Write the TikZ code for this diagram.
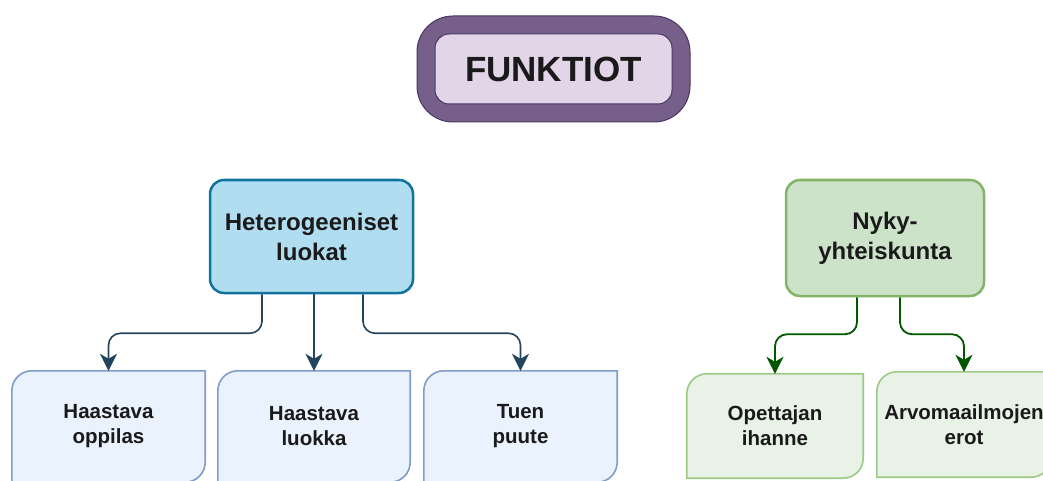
\documentclass[tikz,border=0pt]{standalone}
\usepackage{fontspec}
\setmainfont{Liberation Sans}
\usepackage{tikz}
\usetikzlibrary{arrows.meta,backgrounds}

\definecolor{funkfill}{HTML}{E1D5E7}
\definecolor{funkdark}{HTML}{76608A}
\definecolor{funkline}{HTML}{4B3663}
\definecolor{hetfill}{HTML}{B1DDF0}
\definecolor{hetline}{HTML}{10739E}
\definecolor{bluefill}{HTML}{EAF2FD}
\definecolor{blueline}{HTML}{7F9CCD}
\definecolor{bluearrow}{HTML}{23445D}
\definecolor{nykfill}{HTML}{CCE3CA}
\definecolor{nykline}{HTML}{82B366}
\definecolor{greenfill}{HTML}{E8F2E6}
\definecolor{greenline}{HTML}{9BCB85}
\definecolor{greenarrow}{HTML}{005700}
\definecolor{txt}{HTML}{1A1A1A}

\begin{document}
\begin{tikzpicture}[x=1pt, y=1pt,
  parent/.style={rectangle, rounded corners=14pt, line width=2.5pt, align=center,
    text=txt, font=\bfseries\fontsize{24}{30}\selectfont},
  child/.style={align=center, text=txt, font=\bfseries\fontsize{20.5}{25}\selectfont},
  barrow/.style={draw=bluearrow, line width=1.6pt, rounded corners=12pt,
    -{Stealth[length=17pt,width=17pt,inset=5pt]}},
  garrow/.style={draw=greenarrow, line width=1.8pt, rounded corners=12pt,
    -{Stealth[length=17pt,width=17pt,inset=5pt]}}]
  \useasboundingbox (0,0) rectangle (1043,480);

  \node[draw=funkline, fill=funkdark, rounded corners=36pt, line width=1pt,
    minimum width=273pt, minimum height=106pt] (funk) at (553.5,411) {};
  \node[draw=funkline, fill=funkfill, rounded corners=14pt, line width=1pt,
    minimum width=237pt, minimum height=70pt, text=txt,
    font=\bfseries\fontsize{35}{42}\selectfont] (funkin) at (funk) {FUNKTIOT};

  \node[parent, draw=hetline, fill=hetfill, minimum width=203pt, minimum height=113pt]
    (het) at (311.5,243.5) {Heterogeeniset\\luokat};
  \node[parent, draw=nykline, fill=nykfill, minimum width=198pt, minimum height=116pt]
    (nyk) at (885,242) {Nyky-\\yhteiskunta};

  \node[child, minimum width=193pt, minimum height=111pt] (hop) at (108.5,53.5) {Haastava\\oppilas};
  \node[child, minimum width=192pt, minimum height=111pt] (hlu) at (314,53.5) {Haastava\\luokka};
  \node[child, minimum width=193pt, minimum height=111pt] (tpu) at (520.5,53.5) {Tuen\\puute};
  \node[child, minimum width=176pt, minimum height=104pt] (ope) at (775,54) {Opettajan\\ihanne};
  \node[child, minimum width=174pt, minimum height=105pt] (arv) at (964,55.5) {Arvomaailmojen\\erot};

  \begin{scope}[on background layer]
    \foreach \n/\fc/\lc in {hop/bluefill/blueline, hlu/bluefill/blueline, tpu/bluefill/blueline,
                            ope/greenfill/greenline, arv/greenfill/greenline}
      \draw[draw=\lc, fill=\fc, line width=1.6pt]
        ([xshift=20pt]\n.north west) -- (\n.north east)
        -- ([yshift=20pt]\n.south east) arc[start angle=0, end angle=-90, radius=20pt]
        -- (\n.south west)
        -- ([yshift=-20pt]\n.north west) arc[start angle=180, end angle=90, radius=20pt]
        -- cycle;
  \end{scope}

  \draw[barrow] ([xshift=-49.5pt]het.south) -- ++(0,-39) -| (hop.north);
  \draw[barrow] (het.south -| hlu.north) -- (hlu.north);
  \draw[barrow] ([xshift=51.5pt]het.south) -- ++(0,-39) -| (tpu.north);

  \draw[garrow] ([xshift=-28pt]nyk.south) -- ++(0,-37) -| (ope.north);
  \draw[garrow] ([xshift=15pt]nyk.south) -- ++(0,-37) -| (arv.north);
\end{tikzpicture}
\end{document}
